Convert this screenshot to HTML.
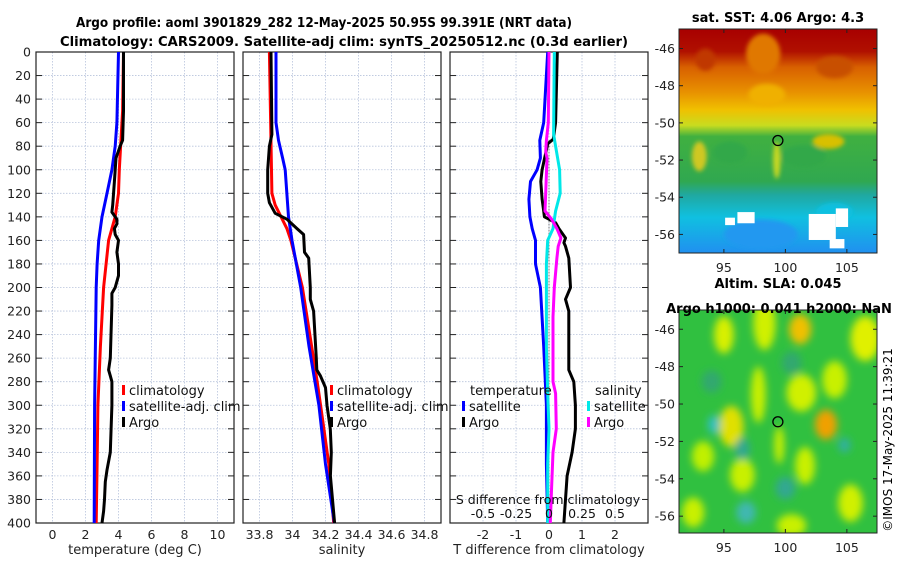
<!DOCTYPE html>
<html><head><meta charset="utf-8"><style>
body{margin:0;background:#fff;width:900px;height:580px;overflow:hidden}
svg{font-family:"DejaVu Sans","Liberation Sans",sans-serif}
</style></head><body>
<svg id="fig" width="900" height="580" xmlns="http://www.w3.org/2000/svg">
<defs>
<filter id="bl" x="-50%" y="-50%" width="200%" height="200%"><feGaussianBlur stdDeviation="4"/></filter>
<filter id="bl2" x="-50%" y="-50%" width="200%" height="200%"><feGaussianBlur stdDeviation="2"/></filter>
<linearGradient id="sstg" x1="0" y1="0" x2="0" y2="1">
<stop offset="0" stop-color="#a80000"/><stop offset="0.1" stop-color="#b01000"/>
<stop offset="0.17" stop-color="#d86000"/><stop offset="0.28" stop-color="#e89000"/>
<stop offset="0.36" stop-color="#f0c000"/><stop offset="0.43" stop-color="#c8dc20"/>
<stop offset="0.48" stop-color="#40b040"/><stop offset="0.68" stop-color="#30a850"/>
<stop offset="0.74" stop-color="#20a8a0"/><stop offset="0.84" stop-color="#10c0e0"/>
<stop offset="1" stop-color="#2090f0"/></linearGradient>
<clipPath id="c1"><rect x="679" y="29" width="198" height="224"/></clipPath>
<clipPath id="c2"><rect x="679" y="310" width="198" height="223"/></clipPath>
</defs>
<text x="324" y="27" text-anchor="middle" font-size="13" font-weight="bold" textLength="496" lengthAdjust="spacingAndGlyphs">Argo profile: aoml 3901829_282 12-May-2025 50.95S 99.391E (NRT data)</text>
<text x="344" y="46" text-anchor="middle" font-size="13" font-weight="bold" textLength="568" lengthAdjust="spacingAndGlyphs">Climatology: CARS2009. Satellite-adj clim: synTS_20250512.nc (0.3d earlier)</text>
<g id="panels"></g>
<g id="maps"></g>
<text transform="translate(892,440) rotate(-90)" text-anchor="middle" font-size="12">©IMOS 17-May-2025 11:39:21</text>
</svg>
<script>
const NS="http://www.w3.org/2000/svg";
function mk(p,t,a,txt){const e=document.createElementNS(NS,t);for(const k in a)e.setAttribute(k,a[k]);if(txt!==undefined)e.textContent=txt;p.appendChild(e);return e;}
// ---- data ----
const depthTicks=[0,20,40,60,80,100,120,140,160,180,200,220,240,260,280,300,320,340,360,380,400];
const tTicks=[0,2,4,6,8,10];
const sTicks=[33.8,34,34.2,34.4,34.6,34.8];
const dTicks=[-2,-1,0,1,2];
const dsTickLabels=["-0.5","-0.25","0","0.25","0.5"];
const dsTickVals=[-0.5,-0.25,0,0.25,0.5];
const tClimD=[0,50,100,120,140,160,200,250,300,350,400];
const tClim=[4.3,4.25,4.05,4.0,3.8,3.4,3.1,2.9,2.75,2.7,2.65];
const tSatD=[0,60,80,100,120,140,160,180,200,250,300,400];
const tSat=[4.0,3.9,3.8,3.6,3.3,3.0,2.8,2.7,2.65,2.6,2.55,2.53];
const tArgoD=[0,50,75,80,90,110,130,136,142,146,150,155,160,170,180,190,200,205,215,260,270,275,280,300,320,340,355,365,380,390,400];
const tArgo=[4.3,4.3,4.25,4.1,3.85,3.75,3.65,3.6,3.9,3.9,3.75,3.8,4.0,3.9,4.0,4.0,3.8,3.6,3.6,3.5,3.4,3.5,3.6,3.6,3.55,3.5,3.3,3.2,3.15,3.1,3.0];
const sClimD=[0,120,130,150,160,200,280,300,350,400];
const sClim=[33.86,33.875,33.895,33.966,33.99,34.06,34.15,34.17,34.22,34.25];
const sSatD=[0,60,75,90,100,140,160,200,250,300,350,400];
const sSat=[33.9,33.9,33.915,33.94,33.956,33.976,33.997,34.05,34.1,34.16,34.2,34.254];
const sArgoD=[0,70,80,100,120,128,137,142,150,155,170,175,200,210,220,260,270,275,285,300,320,340,360,400];
const sArgo=[33.87,33.875,33.86,33.85,33.85,33.86,33.895,33.966,34.027,34.067,34.073,34.098,34.108,34.108,34.128,34.144,34.147,34.169,34.2,34.209,34.229,34.235,34.23,34.255];
const dtSatD=[0,60,75,90,100,110,125,140,150,160,180,200,250,300,350,400];
const dtSat=[-0.04,-0.16,-0.28,-0.26,-0.36,-0.56,-0.61,-0.58,-0.51,-0.41,-0.41,-0.26,-0.16,-0.08,-0.08,-0.04];
const dtArgoD=[0,60,74,78,100,110,125,135,140,145,150,158,162,165,175,200,210,220,250,270,280,300,320,340,360,400];
const dtArgo=[0.25,0.2,0.13,-0.04,-0.21,-0.25,-0.21,-0.16,-0.14,0.2,0.3,0.5,0.45,0.5,0.6,0.65,0.5,0.6,0.6,0.6,0.75,0.8,0.8,0.7,0.55,0.45];
const dsSatD=[0,70,80,100,120,135,150,160,180,200,250,290,320,350,400];
const dsSat=[0.04,0.035,0.05,0.08,0.085,0.05,0.03,-0.01,-0.02,-0.02,-0.02,-0.01,0.0,-0.01,-0.01];
const dsArgoD=[0,60,75,85,90,120,135,142,150,158,165,175,200,225,280,290,320,340,370,400];
const dsArgo=[0.0,-0.005,-0.02,-0.025,-0.015,-0.025,-0.03,0.02,0.06,0.09,0.07,0.06,0.04,0.03,0.03,0.05,0.055,0.03,0.02,0.01];

const Y0=52,Y1=523;
const yS=d=>Y0+(d/400)*(Y1-Y0);
const panels=[
 {name:"temperature",x0:36,x1:234,lo:-1,hi:11,ticks:tTicks,lab:"temperature (deg C)",ylab:true},
 {name:"salinity",x0:243,x1:441,lo:33.7,hi:34.9,ticks:sTicks,lab:"salinity",ylab:false},
 {name:"difference",x0:450,x1:648,lo:-3,hi:3,ticks:dTicks,lab:"T difference from climatology",ylab:false}];
const G=document.getElementById('panels');
panels.forEach(p=>{
 p.xS=v=>p.x0+(v-p.lo)/(p.hi-p.lo)*(p.x1-p.x0);
 const g=mk(G,'g',{});
 
 
 depthTicks.forEach(d=>{const l=mk(g,'line',{x1:p.x0,x2:p.x1,y1:yS(d),y2:yS(d),stroke:'#b8c4dc','stroke-width':0.8,'stroke-dasharray':'1.5,1.5'});
  
  mk(g,'line',{x1:p.x0,x2:p.x0+6,y1:yS(d),y2:yS(d),stroke:'#222'});
  mk(g,'line',{x1:p.x1-6,x2:p.x1,y1:yS(d),y2:yS(d),stroke:'#222'});
  if(p.ylab){const t=mk(g,'text',{x:p.x0-5,y:yS(d)+4.5,'text-anchor':'end','font-size':12.5,fill:'#222'},String(d));
   }
 });
 p.ticks.forEach(v=>{const x=p.xS(v);
  const l=mk(g,'line',{x1:x,x2:x,y1:Y0,y2:Y1,stroke:'#b8c4dc','stroke-width':0.8,'stroke-dasharray':'1.5,1.5'});
  
  const t=mk(g,'text',{x:x,y:Y1+16,'text-anchor':'middle','font-size':12.5,fill:'#222'},String(v));
  
 });
 const r=mk(g,'rect',{x:p.x0,y:Y0,width:p.x1-p.x0,height:Y1-Y0,fill:'none',stroke:'#222','stroke-width':1.2});
 
 const xl=mk(g,'text',{x:(p.x0+p.x1)/2,y:554,'text-anchor':'middle','font-size':13,fill:'#222'},p.lab);
 
});
function line(p,D,V,col,name,xf){
 const xs=xf||p.xS;
 const pts=D.map((d,i)=>xs(V[i]).toFixed(1)+','+yS(d).toFixed(1)).join(' ');
 const l=mk(G,'polyline',{points:pts,fill:'none',stroke:col,'stroke-width':3,'stroke-linejoin':'round'});
 
 
}
const [P1,P2,P3]=panels;
const dsX=v=>P3.xS(v*4);
const z=mk(G,'line',{x1:P3.xS(0),x2:P3.xS(0),y1:yS(75),y2:Y1,stroke:'#444','stroke-width':1,'stroke-dasharray':'1,2'});

line(P1,tClimD,tClim,'#ff0000','temp-climatology-line');
line(P1,tSatD,tSat,'#0000ff','temp-satellite-line');
line(P1,tArgoD,tArgo,'#000','temp-argo-line');
line(P2,sClimD,sClim,'#ff0000','sal-climatology-line');
line(P2,sSatD,sSat,'#0000ff','sal-satellite-line');
line(P2,sArgoD,sArgo,'#000','sal-argo-line');
line(P3,dtSatD,dtSat,'#0000ff','dt-satellite-line');
line(P3,dtArgoD,dtArgo,'#000','dt-argo-line');
line(P3,dsSatD,dsSat,'#00e8e8','ds-satellite-line',dsX);
line(P3,dsArgoD,dsArgo,'#ff00ff','ds-argo-line',dsX);
const st=mk(G,'text',{x:548,y:504,'text-anchor':'middle','font-size':12.5,fill:'#111'},'S difference from climatology');

dsTickVals.forEach((v,i)=>{const t=mk(G,'text',{x:dsX(v),y:518,'text-anchor':'middle','font-size':12.5,fill:'#111'},dsTickLabels[i]);
 });
function leg(x,y,col,txt,name){const g=mk(G,'g',{});
 
 mk(g,'rect',{x:x,y:y-10,width:3,height:10,fill:col});
 mk(g,'text',{x:x+7,y:y,'font-size':13,fill:'#111'},txt);}
[[P1,122],[P2,330]].forEach(([p,x],k)=>{
 leg(x,395,'#ff0000','climatology','legend-climatology');
 leg(x,411,'#0000ff','satellite-adj. clim','legend-satellite-adj');
 leg(x,427,'#000','Argo','legend-argo');});
const lt=mk(G,'text',{x:470,y:395,'font-size':13,fill:'#111'},'temperature');
const ls=mk(G,'text',{x:595,y:395,'font-size':13,fill:'#111'},'salinity');
leg(462,411,'#0000ff','satellite','legend-t-satellite');
leg(462,427,'#000','Argo','legend-t-argo');
leg(587,411,'#00e8e8','satellite','legend-s-satellite');
leg(587,427,'#ff00ff','Argo','legend-s-argo');

// ---- maps ----
const lonTicks=[95,100,105];
const latTicks=[-46,-48,-50,-52,-54,-56];
const argoLon=99.391, argoLat=-50.95;
const M=document.getElementById('maps');
const maps=[{name:'sst-map',x0:679,x1:877,y0:29,y1:253,latTop:-44.95,latBot:-57,clip:'c1'},
            {name:'sla-map',x0:679,x1:877,y0:310,y1:533,latTop:-44.97,latBot:-56.9,clip:'c2'}];
const sstBlobs=[[98.2,-46.3,1.4,1.1,'#e07800'],[93.5,-46.6,0.8,0.6,'#c03800'],[104,-47,1.5,0.6,'#c85000'],[98.5,-48.5,1.5,0.6,'#f0b000'],[95.5,-51.6,1.4,0.6,'#30a848'],[101.5,-51.8,1.8,0.6,'#30a848'],[93,-51.8,0.6,0.8,'#d0c820'],[99.3,-52,0.3,1.0,'#c8d820'],[103.5,-51.0,1.3,0.4,'#d8c000'],[98,-56,3,0.8,'#2098f0'],[104,-54.8,1.5,0.5,'#10c0e0']];
const whites=[[95.5,-55.3,0.4,0.2],[96.8,-55.1,0.7,0.3],[103,-55.6,1.1,0.7],[104.6,-55.1,0.5,0.5],[104.2,-56.5,0.6,0.25]];
const slaBlobs=[[98.3,-45.7,0.9,1.4,'#d0f000'],[95,-46.3,0.8,1.0,'#d8f000'],[101.2,-46,0.9,0.8,'#f0c000'],[106.5,-46.5,1.2,1.2,'#e0f000'],[97.8,-49.5,0.6,1.5,'#c8f000'],[101.3,-49.4,1.2,1.0,'#d0f000'],[104,-48.7,1,1,'#c8f000'],[95.6,-51.2,1,1.1,'#e0e000'],[103.3,-51.1,0.9,0.8,'#f0a000'],[99.5,-52.2,0.4,1.0,'#c8f000'],[93.3,-52.8,0.9,0.8,'#c0f000'],[96.5,-53.8,1,0.9,'#c8f000'],[101.6,-53.3,0.8,1,'#c8f000'],[105.3,-55.3,1,1.0,'#d0f000'],[92.5,-55.8,0.9,0.8,'#c8f000'],[100.5,-56.5,1.2,0.6,'#c8f000'],[94.2,-51.1,0.5,0.5,'#30c0c0'],[96.5,-52.4,0.6,0.6,'#30a890'],[96.8,-55.8,0.8,0.6,'#40b8b0'],[104.8,-52.2,0.5,0.4,'#30b0a0'],[100,-54.5,0.8,0.6,'#30a890'],[94,-48.8,0.8,0.6,'#30a870'],[100.5,-47.8,0.8,0.6,'#30a870']];
maps.forEach((m,k)=>{
 const lx=v=>m.x0+(v-91.35)/(107.45-91.35)*(m.x1-m.x0);
 const ly=v=>m.y0+(m.latTop-v)/(m.latTop-m.latBot)*(m.y1-m.y0);
 const pxd=(m.y1-m.y0)/(m.latTop-m.latBot), pxl=(m.x1-m.x0)/(107.45-91.35);
 const g=mk(M,'g',{});
 
 const c=mk(g,'g',{'clip-path':'url(#'+m.clip+')'});
 if(k===0){
  mk(c,'rect',{x:m.x0,y:m.y0,width:m.x1-m.x0,height:m.y1-m.y0,fill:'url(#sstg)'});
  const b=mk(c,'g',{filter:'url(#bl2)'});
  sstBlobs.forEach(s=>mk(b,'ellipse',{cx:lx(s[0]),cy:ly(s[1]),rx:s[2]*pxl,ry:s[3]*pxd,fill:s[4]}));
  whites.forEach(s=>mk(c,'rect',{x:lx(s[0]-s[2]),y:ly(s[1]+s[3]),width:2*s[2]*pxl,height:2*s[3]*pxd,fill:'#fff'}));
 } else {
  mk(c,'rect',{x:m.x0,y:m.y0,width:m.x1-m.x0,height:m.y1-m.y0,fill:'#30c040'});
  const b=mk(c,'g',{filter:'url(#bl)'});
  slaBlobs.forEach(s=>mk(b,'ellipse',{cx:lx(s[0]),cy:ly(s[1]),rx:s[2]*pxl,ry:s[3]*pxd,fill:s[4]}));
 }
 const ci=mk(g,'circle',{cx:lx(argoLon),cy:ly(argoLat),r:5,fill:'none',stroke:'#000','stroke-width':1.3});
 
 mk(g,'rect',{x:m.x0,y:m.y0,width:m.x1-m.x0,height:m.y1-m.y0,fill:'none',stroke:'#222','stroke-width':1});
 lonTicks.forEach(v=>{mk(g,'line',{x1:lx(v),x2:lx(v),y1:m.y1,y2:m.y1-4,stroke:'#222'});mk(g,'line',{x1:lx(v),x2:lx(v),y1:m.y0,y2:m.y0+4,stroke:'#222'});
  const t=mk(g,'text',{x:lx(v),y:m.y1+19,'text-anchor':'middle','font-size':12.5,fill:'#222'},String(v));
  });
 latTicks.forEach(v=>{mk(g,'line',{x1:m.x0,x2:m.x0+4,y1:ly(v),y2:ly(v),stroke:'#222'});mk(g,'line',{x1:m.x1-4,x2:m.x1,y1:ly(v),y2:ly(v),stroke:'#222'});
  const t=mk(g,'text',{x:m.x0-4,y:ly(v)+4.5,'text-anchor':'end','font-size':12.5,fill:'#222'},String(v));
  });
});
const t1=mk(M,'text',{x:778,y:22,'text-anchor':'middle','font-size':13,'font-weight':'bold'},'sat. SST: 4.06 Argo: 4.3');

const t2=mk(M,'text',{x:778,y:288,'text-anchor':'middle','font-size':13,'font-weight':'bold'},'Altim. SLA: 0.045');

const t3=mk(M,'text',{x:779,y:313,'text-anchor':'middle','font-size':13,'font-weight':'bold'},'Argo h1000: 0.041 h2000: NaN');

</script>
</body></html>
